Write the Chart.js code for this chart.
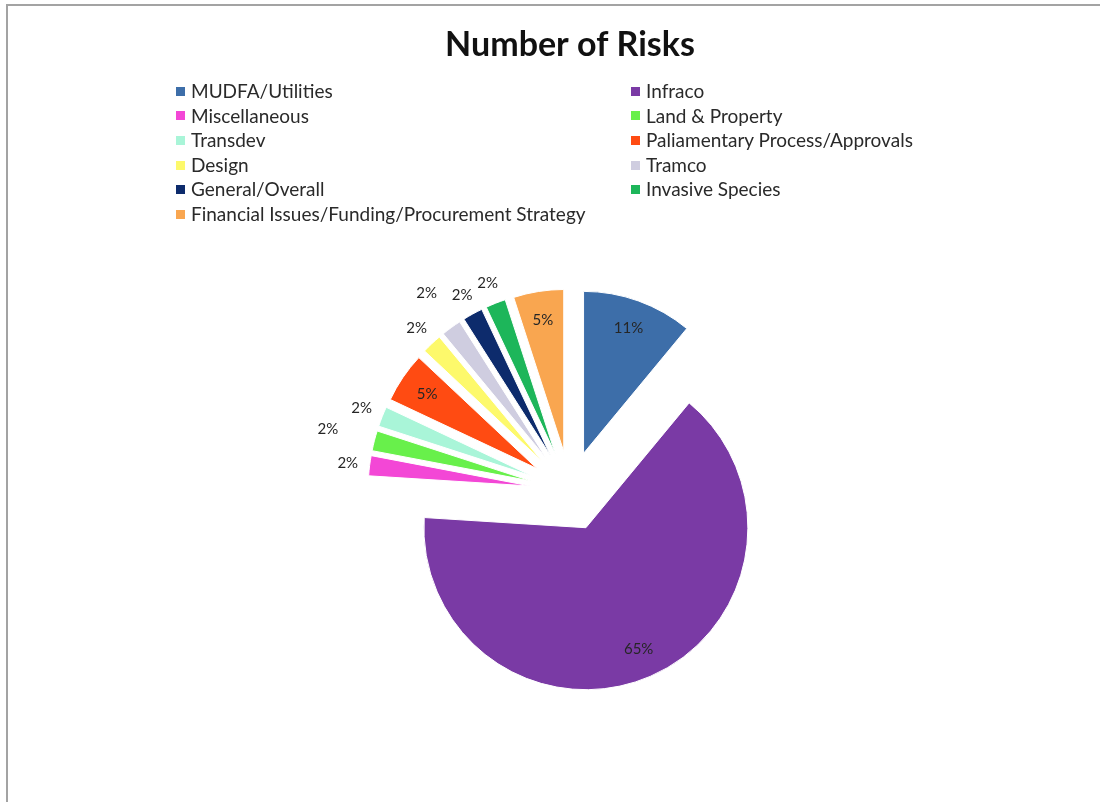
<!DOCTYPE html>
<html>
<head>
<meta charset="utf-8">
<title>Number of Risks</title>
<script src="https://cdn.jsdelivr.net/npm/chart.js@4/dist/chart.umd.min.js"></script>
<style>
  html, body { margin: 0; padding: 0; background: #fff; }
  #wrap { position: relative; width: 1100px; height: 802px; overflow: hidden; }
  #frame {
    position: absolute; left: 6px; top: 4px; right: -4px; bottom: -4px;
    border-top: 2px solid #a3a3a3; border-left: 2px solid #a3a3a3;
  }
  #riskChart { position: absolute; left: 0; top: 0; }
  #legend {
    position: absolute; left: 176px; top: 79px;
    display: grid; grid-template-columns: 455px 300px;
    font-family: Lato, "Noto Sans", sans-serif; font-size: 19px; color: #2a2a2a;
    line-height: 24.6px;
  }
  #legend .item { display: flex; align-items: center; white-space: nowrap; }
  #legend .box { width: 9px; height: 9px; margin-right: 6px; flex: none; }
</style>
</head>
<body>
<div id="wrap">
  <div id="frame"></div>
  <canvas id="riskChart" width="1100" height="802"></canvas>
  <div id="legend"></div>
</div>
<script>
const categories = [
  'MUDFA/Utilities', 'Infraco', 'Miscellaneous', 'Land & Property', 'Transdev',
  'Paliamentary Process/Approvals', 'Design', 'Tramco', 'General/Overall',
  'Invasive Species', 'Financial Issues/Funding/Procurement Strategy'
];
const riskShare = [11, 65, 2, 2, 2, 5, 2, 2, 2, 2, 5];
const sliceColors = [
  '#3d6ea9', '#7a3aa5', '#f347d6', '#68f04b', '#a9f5d8',
  '#ff4b12', '#fdf96b', '#cfcde0', '#0d2b6c', '#1db65a', '#f9a650'
];

// pull every slice out from the centre along its own bisector
const explode = {
  id: 'explode',
  afterDatasetUpdate(chart, args, opts) {
    chart.getDatasetMeta(args.index).data.forEach(arc => {
      const mid = (arc.startAngle + arc.endAngle) / 2;
      arc.x += Math.cos(mid) * opts.distance;
      arc.y += Math.sin(mid) * opts.distance;
    });
  }
};

// percentage labels: inside the big slices, outside the thin ones.
// an outside label that would bump into one sitting on the normal ring
// is stepped further out (staggered)
const pctLabels = {
  id: 'pctLabels',
  afterDatasetsDraw(chart, args, opts) {
    const ctx = chart.ctx;
    const values = chart.data.datasets[0].data;
    const total = values.reduce((a, b) => a + b, 0);
    const onRing = [];
    ctx.save();
    ctx.font = opts.font;
    ctx.fillStyle = opts.color;
    ctx.textAlign = 'center';
    ctx.textBaseline = 'middle';
    chart.getDatasetMeta(0).data.forEach((arc, i) => {
      const pct = Math.round(values[i] / total * 100);
      const text = pct + '%';
      const mid = (arc.startAngle + arc.endAngle) / 2;
      const cos = Math.cos(mid), sin = Math.sin(mid);
      if (pct >= opts.insideMin) {
        const r = arc.outerRadius * opts.insideRatio;
        ctx.fillText(text, arc.x + cos * r, arc.y + sin * r);
        return;
      }
      const w = ctx.measureText(text).width + opts.padX * 2;
      const h = opts.boxHeight + opts.padY * 2;
      const r0 = arc.outerRadius + opts.gap;
      let r = r0, x, y;
      do {
        x = arc.x + cos * r;
        y = arc.y + sin * r;
        r += 1;
      } while (onRing.some(b => Math.abs(b.x - x) < (b.w + w) / 2 && Math.abs(b.y - y) < (b.h + h) / 2));
      if (r - 1 === r0) onRing.push({ x, y, w, h });
      ctx.fillText(text, x, y);
    });
    ctx.restore();
  }
};

const chart = new Chart(document.getElementById('riskChart'), {
  type: 'pie',
  data: {
    labels: categories,
    datasets: [{
      data: riskShare,
      backgroundColor: sliceColors,
      borderColor: '#ffffff',
      borderWidth: 1
    }]
  },
  options: {
    responsive: false,
    animation: false,
    radius: 162,
    layout: { padding: { left: 40, right: 0, top: 0, bottom: 0 } },
    plugins: {
      legend: { display: false },
      tooltip: { enabled: false },
      title: {
        display: true,
        text: 'Number of Risks',
        color: '#111',
        font: { family: 'Lato', size: 34, weight: 'bold' },
        padding: { top: 24.6, bottom: 114.6 }
      },
      explode: { distance: 40 },
      pctLabels: {
        font: '15px Lato',
        color: '#262626',
        insideMin: 5,
        insideRatio: 0.82,
        gap: 22,
        boxHeight: 16,
        padX: 1.5,
        padY: 9
      }
    }
  },
  plugins: [explode, pctLabels]
});

// two-column legend, filled row by row in data order
const legendEl = document.getElementById('legend');
categories.forEach((name, i) => {
  const item = document.createElement('div');
  item.className = 'item';
  const box = document.createElement('span');
  box.className = 'box';
  box.style.background = sliceColors[i];
  item.appendChild(box);
  item.appendChild(document.createTextNode(name));
  legendEl.appendChild(item);
});
</script>
</body>
</html>
